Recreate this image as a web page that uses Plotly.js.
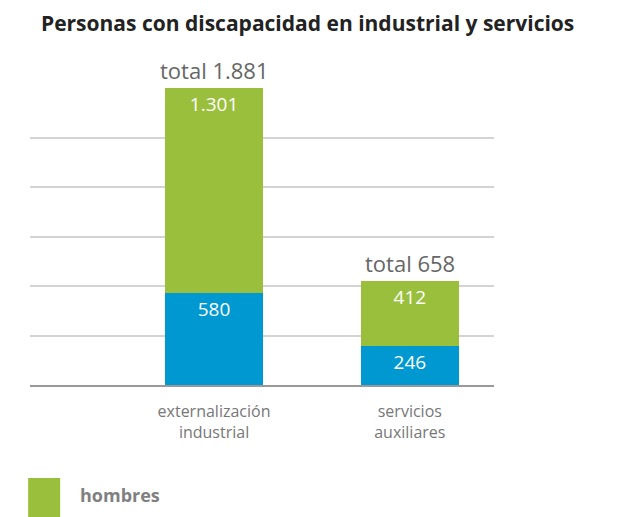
<!DOCTYPE html>
<html>
<head>
<meta charset="utf-8">
<script src="https://cdn.plot.ly/plotly-3.0.1.min.js"></script>
<style>
  html, body { margin: 0; padding: 0; background: #fff; }
  #plot_div { width: 619px; height: 517px; }
</style>
</head>
<body>
<div id="plot_div"></div>
<script>
const categories = ['externalización<br>industrial', 'servicios<br>auxiliares'];
const mujeres = [580, 246];
const hombres = [1301, 412];
const totals = categories.map((c, i) => mujeres[i] + hombres[i]);

const FONT = 'Open Sans, Noto Sans, sans-serif';
const GREEN = '#9abf3c';
const BLUE = '#0098d1';

const bar_dft = {
    x: categories,
    type: 'bar',
    width: 0.5,
    texttemplate: '%{y:,}',
    textposition: 'inside',
    insidetextanchor: 'end',
    textangle: 0,
    insidetextfont: {family: FONT, size: 19, color: '#fff'},
    hoverinfo: 'skip',
    showlegend: false,
};

const data = [
    Object.assign({}, bar_dft, {name: 'mujeres', y: mujeres, marker: {color: BLUE}}),
    Object.assign({}, bar_dft, {name: 'hombres', y: hombres, marker: {color: GREEN}}),
];

// total labels above each stack
const annotations = categories.map((c, i) => ({
    x: c, y: totals[i], xref: 'x', yref: 'y',
    text: 'total ' + totals[i].toLocaleString('de-DE'),
    showarrow: false, yanchor: 'bottom', yshift: 1,
    font: {family: FONT, size: 22, color: '#666'},
}));
// legend (only the first entry fits in the frame)
annotations.push({
    xref: 'paper', yref: 'paper', x: 0.103, y: -0.37,
    xanchor: 'left', yanchor: 'middle', showarrow: false,
    text: '<b>hombres</b>',
    font: {family: FONT, size: 18, color: '#808080'},
});

const layout = {
    width: 619, height: 517,
    margin: {l: 30, r: 125, t: 88, b: 132},
    barmode: 'stack',
    separators: ',.',
    title: {
        text: '<b>Personas con discapacidad en industrial y servicios</b>',
        font: {family: FONT, size: 21, color: '#222'},
        x: 0.497, xref: 'container', xanchor: 'center', y: 0.955, yanchor: 'middle',
    },
    xaxis: {
        type: 'category',
        range: [-0.94, 1.43],
        showgrid: false,
        showline: true, linecolor: '#999', linewidth: 2,
        ticks: '', ticklabelstandoff: 11,
        tickfont: {family: FONT, size: 16, color: '#777'},
        fixedrange: true,
    },
    yaxis: {
        range: [0, 1881],
        tick0: 0, dtick: 313.5,
        showticklabels: false,
        showgrid: true, gridcolor: '#d3d3d3', gridwidth: 2,
        zeroline: false,
        fixedrange: true,
    },
    shapes: [{
        type: 'rect', xref: 'paper', yref: 'paper',
        x0: -0.004, x1: 0.065, y0: -0.313, y1: -0.45,
        fillcolor: GREEN, line: {width: 0},
    }],
    annotations,
    paper_bgcolor: '#fff',
    plot_bgcolor: '#fff',
};

const config = {displayModeBar: false, responsive: false};

Plotly.newPlot('plot_div', data, layout, config);
</script>
</body>
</html>
